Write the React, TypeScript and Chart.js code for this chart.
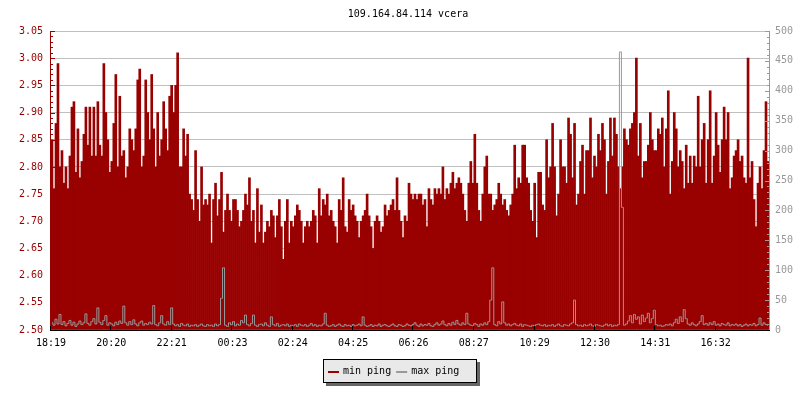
import React, { useEffect, useRef } from "react";
import { Chart, registerables } from "chart.js";

Chart.register(...registerables);

const TITLE = "109.164.84.114 vcera";
const SERIES_LABELS = ["min ping", "max ping"];
const STEP_MINUTES = 4;
const SPAN_MINUTES = 1440;
const TICK_MINUTES = [0, 121, 242, 364, 485, 606, 727, 848, 970, 1091, 1212, 1333];
const TICK_LABELS = ["18:19", "20:20", "22:21", "00:23", "02:24", "04:25", "06:26", "08:27", "10:29", "12:30", "14:31", "16:32"];
const LEFT_MIN = 2.5;
const LEFT_MAX = 3.05;
const LEFT_STEP = 0.05;
const RIGHT_MIN = 0;
const RIGHT_MAX = 500;
const RIGHT_STEP = 50;

const MIN_PING = [
  2.85, 2.76, 2.88, 2.99, 2.80, 2.83, 2.77, 2.80, 2.76, 2.82, 2.91, 2.92, 2.79, 2.87, 2.78, 2.81, 2.86, 2.91, 2.84, 2.91, 2.82, 2.91, 2.82, 2.92, 2.84, 2.82, 2.99, 2.90, 2.85, 2.79,
  2.81, 2.88, 2.97, 2.80, 2.93, 2.82, 2.83, 2.78, 2.80, 2.87, 2.85, 2.83, 2.87, 2.96, 2.98, 2.80, 2.82, 2.96, 2.90, 2.85, 2.97, 2.87, 2.80, 2.90, 2.82, 2.85, 2.92, 2.87, 2.83, 2.93,
  2.95, 2.90, 2.95, 3.01, 2.80, 2.80, 2.87, 2.82, 2.86, 2.75, 2.74, 2.72, 2.83, 2.74, 2.70, 2.80, 2.73, 2.74, 2.73, 2.75, 2.66, 2.74, 2.77, 2.71, 2.74, 2.79, 2.68, 2.72, 2.75, 2.72,
  2.70, 2.74, 2.74, 2.72, 2.69, 2.70, 2.72, 2.75, 2.73, 2.78, 2.70, 2.72, 2.66, 2.76, 2.68, 2.73, 2.66, 2.68, 2.70, 2.69, 2.72, 2.71, 2.67, 2.71, 2.74, 2.69, 2.63, 2.70, 2.74, 2.66,
  2.70, 2.69, 2.71, 2.73, 2.72, 2.70, 2.66, 2.69, 2.70, 2.69, 2.70, 2.72, 2.71, 2.66, 2.76, 2.71, 2.74, 2.73, 2.75, 2.71, 2.72, 2.70, 2.69, 2.66, 2.74, 2.72, 2.78, 2.69, 2.68, 2.74,
  2.72, 2.73, 2.71, 2.70, 2.67, 2.70, 2.71, 2.72, 2.75, 2.71, 2.69, 2.65, 2.70, 2.71, 2.70, 2.68, 2.69, 2.73, 2.71, 2.72, 2.73, 2.74, 2.72, 2.78, 2.72, 2.70, 2.67, 2.71, 2.70, 2.77,
  2.75, 2.74, 2.75, 2.74, 2.75, 2.75, 2.73, 2.74, 2.69, 2.76, 2.74, 2.73, 2.76, 2.75, 2.76, 2.75, 2.80, 2.74, 2.76, 2.75, 2.77, 2.79, 2.76, 2.77, 2.78, 2.77, 2.75, 2.72, 2.70, 2.77,
  2.81, 2.77, 2.86, 2.77, 2.72, 2.70, 2.75, 2.80, 2.82, 2.75, 2.75, 2.72, 2.73, 2.74, 2.77, 2.75, 2.73, 2.74, 2.72, 2.71, 2.73, 2.75, 2.84, 2.76, 2.78, 2.77, 2.84, 2.84, 2.78, 2.77,
  2.72, 2.70, 2.77, 2.67, 2.79, 2.79, 2.73, 2.72, 2.85, 2.78, 2.80, 2.88, 2.80, 2.71, 2.75, 2.85, 2.80, 2.80, 2.77, 2.89, 2.86, 2.78, 2.88, 2.73, 2.75, 2.81, 2.84, 2.75, 2.83, 2.83,
  2.89, 2.78, 2.82, 2.80, 2.86, 2.83, 2.88, 2.85, 2.75, 2.81, 2.89, 2.82, 2.89, 2.86, 2.80, 2.76, 2.80, 2.87, 2.85, 2.84, 2.87, 2.88, 2.90, 3.00, 2.82, 2.88, 2.78, 2.81, 2.81, 2.84,
  2.90, 2.85, 2.83, 2.83, 2.87, 2.86, 2.89, 2.80, 2.87, 2.94, 2.75, 2.81, 2.90, 2.87, 2.80, 2.83, 2.81, 2.76, 2.84, 2.77, 2.82, 2.77, 2.82, 2.80, 2.93, 2.80, 2.85, 2.88, 2.77, 2.85,
  2.94, 2.77, 2.82, 2.90, 2.84, 2.79, 2.85, 2.91, 2.85, 2.90, 2.76, 2.78, 2.82, 2.83, 2.85, 2.81, 2.82, 2.78, 2.77, 3.00, 2.78, 2.81, 2.74, 2.69, 2.77, 2.80, 2.76, 2.83, 2.92, 2.81,
];

const MAX_PING = [
  12, 8, 18, 10, 26, 9, 14, 7, 11, 16, 8, 13, 6, 10, 15, 9, 12, 27, 11, 8, 14, 19, 10, 37, 13, 9, 16, 24, 8, 12,
  10, 7, 13, 9, 15, 11, 40, 12, 8, 14, 9, 17, 10, 7, 12, 15, 8, 11, 9, 13, 10, 41, 9, 7, 12, 24, 10, 8, 14, 9,
  37, 10, 7, 9, 6, 11, 8, 7, 10, 6, 8, 7, 9, 6, 8, 10, 7, 6, 9, 7, 8, 6, 10, 7, 9, 53, 104, 8, 6, 12,
  9, 14, 7, 10, 8, 16, 12, 25, 9, 7, 11, 25, 8, 6, 9, 10, 7, 12, 8, 6, 22, 9, 7, 11, 6, 8, 9, 7, 10, 6,
  8, 7, 9, 6, 10, 8, 7, 9, 6, 8, 11, 7, 9, 6, 8, 7, 10, 28, 8, 6, 7, 9, 6, 8, 10, 7, 6, 9, 7, 8,
  6, 9, 7, 8, 10, 7, 22, 8, 6, 7, 9, 6, 8, 7, 10, 6, 8, 9, 7, 6, 8, 10, 7, 6, 9, 8, 6, 7, 10, 8,
  7, 9, 12, 8, 6, 10, 7, 9, 8, 11, 7, 6, 9, 12, 8, 10, 15, 9, 7, 11, 8, 13, 9, 16, 10, 8, 12, 9, 28, 10,
  8, 7, 11, 9, 6, 10, 8, 12, 9, 14, 50, 104, 9, 7, 14, 10, 47, 12, 8, 10, 7, 9, 11, 8, 7, 10, 6, 9, 8, 7,
  6, 8, 7, 9, 10, 8, 7, 9, 6, 8, 7, 9, 6, 8, 10, 7, 6, 9, 8, 7, 10, 12, 50, 9, 7, 8, 6, 9, 7, 8,
  10, 7, 6, 9, 8, 7, 6, 8, 10, 7, 9, 6, 8, 7, 9, 465, 205, 8, 10, 15, 24, 12, 26, 18, 22, 10, 25, 14, 20, 28,
  12, 19, 33, 9, 7, 8, 6, 7, 9, 8, 10, 7, 12, 18, 11, 22, 14, 34, 19, 10, 8, 12, 9, 7, 10, 14, 24, 9, 11, 8,
  12, 9, 14, 8, 10, 7, 11, 9, 8, 12, 7, 9, 8, 10, 7, 9, 6, 8, 10, 7, 9, 8, 11, 7, 9, 20, 8, 12, 9, 8,
];

const RED = "#990000";
const GRAY = "#999999";
const FONT = "DejaVu Sans Mono";

const decorPlugin = {
  id: "rrdDecor",
  afterDatasetsDraw(chart: any) {
    const { ctx, chartArea } = chart;
    const { left, right, top, bottom } = chartArea;
    const yL = chart.scales.yL;
    const yR = chart.scales.yR;
    const xs = chart.scales.x;
    const line = (x1: number, y1: number, x2: number, y2: number) => {
      ctx.beginPath();
      ctx.moveTo(x1, y1);
      ctx.lineTo(x2, y2);
      ctx.stroke();
    };
    ctx.save();
    ctx.lineWidth = 1;
    // left axis
    ctx.strokeStyle = RED;
    line(left - 0.5, top, left - 0.5, bottom);
    const nL = Math.round((LEFT_MAX - LEFT_MIN) / 0.01);
    for (let k = 0; k <= nL; k++) {
      const y = Math.round(yL.getPixelForValue(LEFT_MIN + k * 0.01)) + 0.5;
      line(left - 1, y, left + (k % 5 === 0 ? 4 : 2), y);
    }
    // right axis
    ctx.strokeStyle = GRAY;
    line(right + 0.5, top, right + 0.5, bottom);
    const nR = Math.round((RIGHT_MAX - RIGHT_MIN) / 10);
    for (let k = 0; k <= nR; k++) {
      const y = Math.round(yR.getPixelForValue(RIGHT_MIN + k * 10)) + 0.5;
      line(right + 1, y, right - (k % 5 === 0 ? 4 : 2), y);
    }
    // x axis
    ctx.strokeStyle = "#000000";
    line(left - 1, bottom + 0.5, right + 1, bottom + 0.5);
    TICK_MINUTES.forEach((m) => {
      const x = Math.round(xs.getPixelForValue(m)) - 0.5;
      line(x, bottom + 1, x, bottom - 4);
    });
    ctx.restore();
  },
  afterDraw(chart: any) {
    const { ctx } = chart;
    ctx.save();
    ctx.font = `10px "${FONT}"`;
    ctx.textBaseline = "middle";
    ctx.fillStyle = "#000000";
    ctx.textAlign = "center";
    ctx.fillText(TITLE, 408, 14);

    // legend
    const w1 = ctx.measureText(SERIES_LABELS[0]).width;
    const w2 = ctx.measureText(SERIES_LABELS[1]).width;
    const boxW = Math.round(5 + 11 + 4 + w1 + 5 + 11 + 4 + w2 + 18);
    const boxH = 24;
    const bx = Math.round(chart.width / 2 - boxW / 2);
    const by = 359;
    ctx.fillStyle = "#666666";
    ctx.fillRect(bx + 3, by + 3, boxW, boxH);
    ctx.fillStyle = "#e9e9e9";
    ctx.fillRect(bx, by, boxW, boxH);
    ctx.strokeStyle = "#000000";
    ctx.lineWidth = 1;
    ctx.strokeRect(bx + 0.5, by + 0.5, boxW - 1, boxH - 1);
    const cy = by + 12;
    let cx = bx + 5;
    ctx.fillStyle = RED;
    ctx.fillRect(cx, cy, 11, 2);
    cx += 15;
    ctx.fillStyle = "#000000";
    ctx.textAlign = "left";
    ctx.fillText(SERIES_LABELS[0], cx, cy);
    cx += w1 + 5;
    ctx.fillStyle = GRAY;
    ctx.fillRect(cx, cy, 11, 2);
    cx += 15;
    ctx.fillStyle = "#000000";
    ctx.fillText(SERIES_LABELS[1], cx, cy);
    ctx.restore();
  },
};

export default function App() {
  const ref = useRef<HTMLCanvasElement | null>(null);

  useEffect(() => {
    if (!ref.current) return;
    const minData = MIN_PING.map((v, i) => ({ x: i * STEP_MINUTES + STEP_MINUTES / 2, y: v }));
    const maxData = MAX_PING.map((v, i) => ({ x: i * STEP_MINUTES + STEP_MINUTES / 2, y: v }));
    const font = { family: FONT, size: 10, weight: "normal" as const };

    const chart = new Chart(ref.current, {
      type: "bar",
      data: {
        datasets: [
          {
            type: "line",
            label: SERIES_LABELS[1],
            data: maxData as any,
            yAxisID: "yR",
            borderColor: GRAY,
            backgroundColor: GRAY,
            borderWidth: 1,
            pointRadius: 0,
            stepped: "middle",
            tension: 0,
            order: 0,
          } as any,
          {
            type: "bar",
            label: SERIES_LABELS[0],
            data: minData as any,
            yAxisID: "yL",
            backgroundColor: RED,
            borderWidth: 0,
            barPercentage: 1,
            categoryPercentage: 1,
            base: LEFT_MIN,
            order: 1,
          } as any,
        ],
      },
      options: {
        responsive: false,
        animation: false,
        devicePixelRatio: 1,
        layout: { padding: { top: 31, left: 0, right: 0, bottom: 0 } },
        plugins: {
          legend: { display: false },
          title: { display: false },
          tooltip: { enabled: false },
        },
        scales: {
          x: {
            type: "linear",
            min: 0,
            max: SPAN_MINUTES,
            offset: false,
            grid: { display: false, drawTicks: false },
            border: { display: false },
            afterBuildTicks: (s: any) => {
              s.ticks = TICK_MINUTES.map((v) => ({ value: v }));
            },
            afterFit: (s: any) => {
              s.height = 70;
            },
            ticks: {
              autoSkip: false,
              maxRotation: 0,
              minRotation: 0,
              padding: 7,
              color: "#000000",
              font,
              callback: (v: any) => {
                const idx = TICK_MINUTES.indexOf(Number(v));
                return idx >= 0 ? TICK_LABELS[idx] : "";
              },
            },
          },
          yL: {
            type: "linear",
            position: "left",
            min: LEFT_MIN,
            max: LEFT_MAX,
            grid: { color: "#c0c0c0", drawTicks: false, lineWidth: 1 },
            border: { display: false },
            afterFit: (s: any) => {
              s.width = 51;
            },
            ticks: {
              stepSize: LEFT_STEP,
              padding: 8,
              color: RED,
              font,
              callback: (v: any) => Number(v).toFixed(2),
            },
          },
          yR: {
            type: "linear",
            position: "right",
            min: RIGHT_MIN,
            max: RIGHT_MAX,
            grid: { display: false, drawTicks: false },
            border: { display: false },
            afterFit: (s: any) => {
              s.width = 31;
            },
            ticks: {
              stepSize: RIGHT_STEP,
              padding: 6,
              color: GRAY,
              font,
              callback: (v: any) => String(Math.round(Number(v))),
            },
          },
        },
      } as any,
      plugins: [decorPlugin],
    });
    return () => chart.destroy();
  }, []);

  return (
    <div style={{ position: "fixed", left: 0, top: 0, width: 800, height: 400, background: "#ffffff" }}>
      <canvas ref={ref} width={800} height={400} style={{ width: 800, height: 400, display: "block" }} />
    </div>
  );
}
